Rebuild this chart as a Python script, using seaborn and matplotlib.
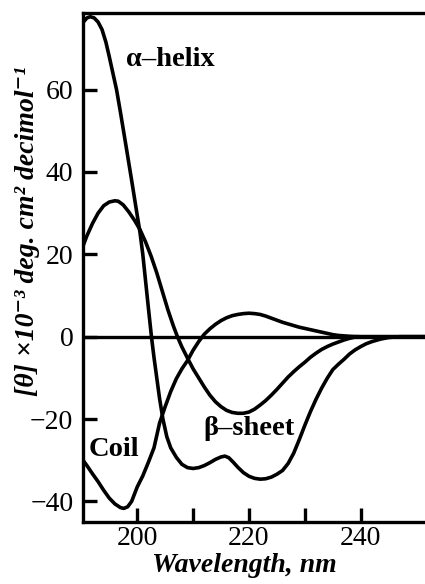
import numpy as np
import pandas as pd
import matplotlib
matplotlib.use("Agg")
import matplotlib.pyplot as plt
from matplotlib.ticker import FixedLocator
import seaborn as sns

# Far-UV circular dichroism spectra of the three reference secondary structures
helix_wl = [190.3, 191.0, 191.6, 192.3, 193.0, 193.7, 194.4, 195.0, 195.6, 196.3,
            197.0, 198.0, 199.0, 200.0, 200.5, 201.0, 202.0, 202.55, 203.0, 204.0,
            204.6, 205.3, 206.0, 207.0, 208.0, 209.0, 210.0, 211.0, 212.0, 213.0,
            214.0, 215.0, 215.7, 216.4, 217.2, 218.0, 219.0, 220.0, 221.0, 222.0,
            223.0, 224.0, 225.0, 226.0, 227.0, 228.0, 229.0, 230.0, 231.0, 232.0,
            233.0, 234.0, 235.0, 236.0, 237.0, 238.0, 239.0, 240.0, 241.0, 242.0,
            243.5, 245.0, 247.0, 251.5]
helix_theta = [76.3, 77.4, 77.7, 77.4, 76.4, 74.6, 71.5, 68.0, 64.3, 60.0,
               54.5, 46.3, 38.0, 29.5, 25.3, 20.0, 7.0, 0.0, -5.0, -15.0,
               -20.0, -24.3, -27.0, -29.3, -31.0, -31.8, -32.0, -31.8, -31.3, -30.6,
               -29.8, -29.2, -29.0, -29.4, -30.5, -31.7, -33.0, -33.9, -34.4, -34.6,
               -34.5, -34.1, -33.4, -32.5, -30.8, -28.3, -25.0, -21.5, -18.2, -15.2,
               -12.5, -10.1, -8.0, -6.7, -5.5, -4.2, -3.2, -2.4, -1.7, -1.2,
               -0.6, -0.2, 0.0, 0.0]

sheet_wl = [190.3, 191.0, 192.0, 193.0, 194.0, 195.0, 196.0, 196.6, 197.5, 198.5,
            199.5, 200.5, 201.5, 202.5, 203.5, 204.5, 205.5, 206.5, 207.2, 208.0,
            209.0, 210.0, 211.0, 212.0, 213.0, 214.0, 215.0, 216.0, 217.0, 218.0,
            219.0, 220.0, 221.0, 222.0, 223.0, 224.0, 225.0, 226.0, 227.0, 228.0,
            229.0, 230.0, 231.0, 232.0, 233.0, 234.0, 235.0, 236.0, 237.0, 238.0,
            239.3, 251.5]
sheet_theta = [22.0, 24.5, 27.5, 30.0, 31.8, 32.7, 33.0, 32.9, 32.0, 30.3,
               28.3, 26.0, 23.0, 19.5, 15.5, 11.0, 6.5, 2.5, 0.0, -2.5,
               -5.2, -7.8, -10.0, -12.2, -14.2, -15.8, -17.0, -17.9, -18.4, -18.6,
               -18.6, -18.3, -17.6, -16.6, -15.5, -14.2, -12.8, -11.3, -9.8, -8.5,
               -7.3, -6.2, -5.0, -4.0, -3.1, -2.4, -1.8, -1.3, -0.8, -0.4,
               0.0, 0.0]

coil_wl = [190.3, 191.0, 192.0, 193.0, 194.0, 195.0, 196.0, 197.0, 197.6, 198.3,
           199.0, 200.0, 201.0, 202.0, 203.0, 204.0, 205.0, 206.0, 207.0, 208.0,
           209.0, 210.0, 211.0, 212.0, 213.0, 214.0, 215.0, 216.0, 217.0, 218.0,
           219.0, 220.0, 221.0, 222.0, 223.0, 224.0, 225.0, 226.0, 227.0, 228.0,
           229.0, 230.0, 231.0, 232.0, 233.0, 234.0, 235.0, 236.0, 238.0, 240.0,
           251.5]
coil_theta = [-30.0, -31.3, -33.3, -35.2, -37.3, -39.2, -40.6, -41.5, -41.7, -41.3,
              -40.0, -36.5, -33.8, -30.5, -27.0, -21.0, -17.0, -13.3, -10.2, -7.8,
              -5.8, -3.3, -1.2, 0.6, 1.9, 3.0, 3.9, 4.6, 5.1, 5.4,
              5.6, 5.7, 5.6, 5.4, 5.0, 4.5, 4.0, 3.5, 3.1, 2.7,
              2.3, 2.0, 1.7, 1.4, 1.1, 0.8, 0.5, 0.3, 0.1, 0.0,
              0.0]

structures = ["α–helix", "β–sheet", "Coil"]
x_ticks = [200, 220, 240]
x_minor = [210, 230]
y_ticks = [-40, -20, 0, 20, 40, 60]

df = pd.concat([
    pd.DataFrame({"wavelength": helix_wl, "theta": helix_theta, "structure": structures[0]}),
    pd.DataFrame({"wavelength": sheet_wl, "theta": sheet_theta, "structure": structures[1]}),
    pd.DataFrame({"wavelength": coil_wl, "theta": coil_theta, "structure": structures[2]}),
], ignore_index=True)

sns.set_theme(style="ticks")
plt.rcParams["font.family"] = ["Liberation Serif", "DejaVu Serif"]
plt.rcParams["text.color"] = "black"
plt.rcParams["axes.labelcolor"] = "black"
plt.rcParams["xtick.color"] = "black"
plt.rcParams["ytick.color"] = "black"

fig = plt.figure(figsize=(4.25, 5.84), dpi=100)
ax = fig.add_axes([83 / 425, 62 / 584, 342 / 425, 509 / 584])

ax.axhline(0, color="black", lw=2.4, zorder=1)
sns.lineplot(data=df, x="wavelength", y="theta", hue="structure",
             palette={s: "black" for s in structures}, sort=False,
             estimator=None, lw=2.6, legend=False, ax=ax, zorder=2)

ax.set_xlim(190.3, 251.5)
ax.set_ylim(-45, 78.6)
ax.spines["right"].set_visible(False)
for side in ("top", "left", "bottom"):
    ax.spines[side].set_color("black")
    ax.spines[side].set_linewidth(2.4)

ax.set_xticks(x_ticks)
ax.xaxis.set_minor_locator(FixedLocator(x_minor))
ax.set_yticks(y_ticks)
ax.tick_params(which="both", direction="in", length=10, width=2.4,
               color="black", labelcolor="black", labelsize=20)
ax.tick_params(axis="y", pad=7)
ax.tick_params(axis="x", pad=3)
ax.tick_params(right=False, top=False, which="both")

ax.set_xlabel("Wavelength, nm", fontsize=20, fontweight="bold",
              fontstyle="italic", va="center", color="black")
ax.xaxis.set_label_coords((244 - 83) / 342, (522 - 566) / 509)
ax.set_ylabel("[θ] ×10⁻³ deg. cm² decimol⁻¹", fontsize=20, fontweight="bold",
              fontstyle="italic", va="center", ha="center", color="black")
ax.yaxis.set_label_coords((28 - 83) / 342, (522 - 231) / 509)

label_style = dict(fontsize=20.5, fontweight="bold", ha="center", va="center",
                   color="black")
ax.text(206.0, 67.2, structures[0], **label_style)
ax.text(220.0, -22.2, structures[1], **label_style)
ax.text(195.8, -27.3, structures[2], **label_style)

fig.savefig("out.png", dpi=100)
